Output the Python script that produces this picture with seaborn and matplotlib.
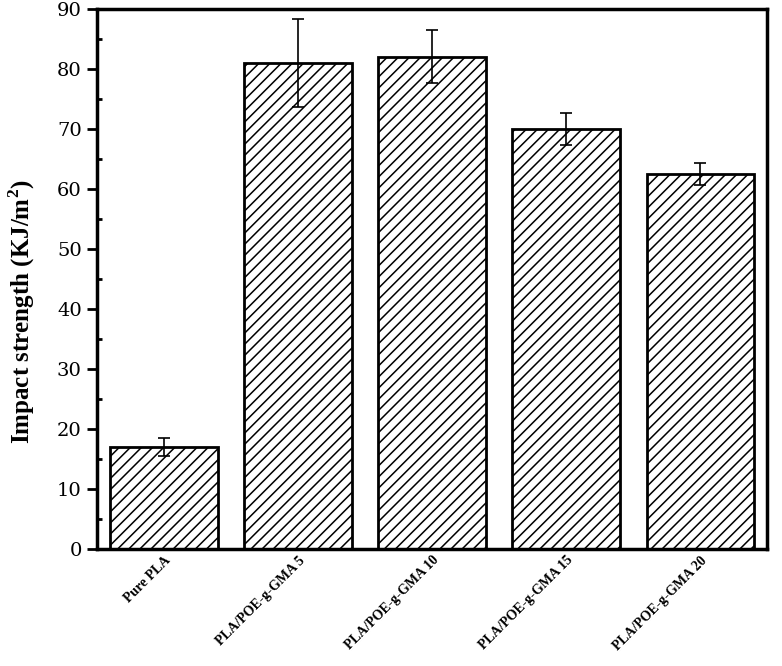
import matplotlib
matplotlib.use('Agg')
import matplotlib.pyplot as plt
import seaborn as sns
import numpy as np
import pandas as pd
from matplotlib.ticker import MultipleLocator

# data
samples = ['Pure PLA', 'PLA/POE-g-GMA 5', 'PLA/POE-g-GMA 10',
           'PLA/POE-g-GMA 15', 'PLA/POE-g-GMA 20']
impact = [17.0, 81.0, 82.0, 70.0, 62.5]
impact_err = [1.5, 7.3, 4.4, 2.7, 1.8]

df = pd.DataFrame({'Sample': samples, 'Impact': impact})

sns.set_style('ticks')
plt.rcParams['font.family'] = ['Liberation Serif', 'DejaVu Serif']
plt.rcParams['hatch.linewidth'] = 1.1
plt.rcParams['text.color'] = 'black'
plt.rcParams['axes.labelcolor'] = 'black'
plt.rcParams['xtick.color'] = 'black'
plt.rcParams['ytick.color'] = 'black'
plt.rcParams['axes.edgecolor'] = 'black'
plt.rcParams['mathtext.fontset'] = 'custom'
plt.rcParams['mathtext.bf'] = 'Liberation Serif:bold'
plt.rcParams['mathtext.rm'] = 'Liberation Serif'

fig = plt.figure(figsize=(7.82, 6.66), dpi=100)
ax = fig.add_axes([0.124, 0.1757, 0.857, 0.811])

sns.barplot(data=df, x='Sample', y='Impact', ax=ax, color='white',
            edgecolor='black', linewidth=2, width=0.8, errorbar=None)
for p in ax.patches:
    p.set_hatch('///')

ax.errorbar(np.arange(len(samples)), impact, yerr=impact_err, fmt='none',
            ecolor='black', elinewidth=1.2, capsize=4, capthick=1.2)

ax.set_xlim(-0.5, 4.5)
ax.set_ylim(0, 90)
ax.yaxis.set_major_locator(MultipleLocator(10))
ax.yaxis.set_minor_locator(MultipleLocator(5))

for s in ax.spines.values():
    s.set_linewidth(2.5)
    s.set_visible(True)

ax.tick_params(axis='y', which='major', direction='out', length=7, width=2,
               labelsize=14, pad=4)
ax.tick_params(axis='y', which='minor', direction='in', length=3.5, width=2)
ax.tick_params(axis='x', which='major', direction='in', length=6, width=1.5)
for lab in ax.get_yticklabels():
    lab.set_family('DejaVu Serif')

ax.set_xticks(range(len(samples)))
ax.set_xticklabels(samples, rotation=45, ha='right', rotation_mode='anchor',
                   fontsize=10, fontweight='bold')
ax.set_xlabel('')
ax.set_ylabel(r'Impact strength (KJ/m$^\mathbf{2}$)', fontsize=18,
              fontweight='bold')
ax.yaxis.set_label_coords(-0.09, 0.44)

fig.savefig('out.png', dpi=100)
